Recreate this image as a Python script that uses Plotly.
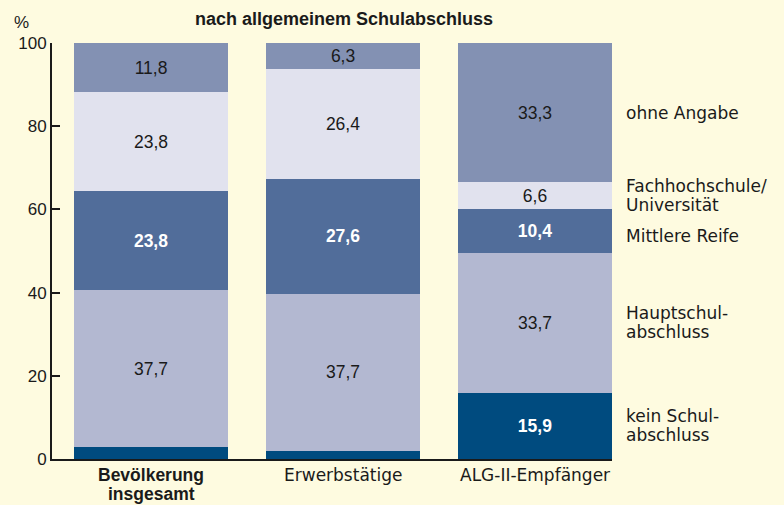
import plotly.graph_objects as go

categories = ["Bevölkerung insgesamt", "Erwerbstätige", "ALG-II-Empfänger"]
cat_lines = [["Bevölkerung", "insgesamt"], ["Erwerbstätige"], ["ALG-II-Empfänger"]]
cat_bold = [True, False, False]

series_names = ["kein Schulabschluss", "Hauptschulabschluss", "Mittlere Reife",
                "Fachhochschule/Universität", "ohne Angabe"]
legend_lines = [["kein Schul-", "abschluss"], ["Hauptschul-", "abschluss"], ["Mittlere Reife"],
                ["Fachhochschule/", "Universität"], ["ohne Angabe"]]
kein = [2.9, 2.0, 15.9]
haupt = [37.7, 37.7, 33.7]
mittlere = [23.8, 27.6, 10.4]
fach = [23.8, 26.4, 6.6]
ohne = [11.8, 6.3, 33.3]
values = [kein, haupt, mittlere, fach, ohne]

colors = ["#004B7F", "#B3B8D1", "#516D9A", "#E1E2EE", "#8391B3"]
text_colors = ["white", "#1a1a1a", "white", "#1a1a1a", "#1a1a1a"]
bold = [True, False, True, False, False]
min_label = 5

bg = "#FEFBE0"
ink = "#1a1a1a"
sans = "Liberation Sans, Arial, sans-serif"
wide = "DejaVu Sans, sans-serif"

xs = [0, 1, 2]
fig = go.Figure()
for name, vals, col, tcol, b in zip(series_names, values, colors, text_colors, bold):
    texts = []
    for v in vals:
        if v < min_label:
            texts.append("")
        else:
            s = f"{v:.1f}".replace(".", ",")
            texts.append(f"<b>{s}</b>" if b else s)
    fig.add_trace(go.Bar(
        x=xs, y=vals, name=name, marker=dict(color=col, line=dict(width=0)),
        text=texts, textposition="inside", insidetextanchor="middle",
        textfont=dict(color=tcol, size=17.5, family=sans),
        hoverinfo="skip", showlegend=False,
    ))

# right-side labels at the centres of the ALG-II segments
cum = 0
shifts = [0, 0, -5, 0, 0]
line_gap = 19
for lines, vals, sh in zip(legend_lines, values, shifts):
    v = vals[2]
    n = len(lines)
    for i, ln in enumerate(lines):
        off = ((n - 1) / 2 - i) * line_gap
        fig.add_annotation(x=1.0, xref="paper", xshift=12, y=cum + v / 2, yref="y",
                           yshift=sh + off, text=ln, showarrow=False,
                           xanchor="left", yanchor="middle", align="left",
                           font=dict(size=17, family=wide, color=ink))
    cum += v

# category labels below the axis
for x, lines, b in zip(xs, cat_lines, cat_bold):
    for i, ln in enumerate(lines):
        fig.add_annotation(x=x, xref="x", y=0, yref="paper", yshift=-16 - i * line_gap,
                           text=f"<b>{ln}</b>" if b else ln, showarrow=False,
                           xanchor="center", yanchor="middle",
                           font=dict(size=17.5 if b else 17, family=sans if b else wide,
                                     color=ink))

fig.add_annotation(x=0, xref="paper", xshift=-31, y=1.0, yref="paper", yshift=21, text="%",
                   showarrow=False, xanchor="center", yanchor="middle",
                   font=dict(size=17, family=sans, color=ink))
fig.add_annotation(x=0, xref="paper", xshift=292, y=1.0, yref="paper", yshift=24,
                   text="<b>nach allgemeinem Schulabschluss</b>",
                   showarrow=False, xanchor="center", yanchor="middle",
                   font=dict(size=18, family=sans, color=ink))

fig.update_layout(
    barmode="stack", bargap=0.2,
    width=784, height=505,
    margin=dict(l=52, r=172, t=43, b=46, pad=0),
    paper_bgcolor=bg, plot_bgcolor=bg,
    uniformtext=dict(minsize=15, mode="show"),
    xaxis=dict(tickmode="array", tickvals=xs, showticklabels=False,
               range=[-0.516, 2.401], showline=True, linecolor=ink, linewidth=2,
               ticks="", showgrid=False, zeroline=False),
    yaxis=dict(range=[0, 100], tickvals=[0, 20, 40, 60, 80, 100],
               showline=True, linecolor=ink, linewidth=2,
               ticks="inside", ticklen=8, tickwidth=2, tickcolor=ink,
               showgrid=False, zeroline=False,
               tickfont=dict(size=17, family=sans, color=ink)),
    font=dict(family=sans, color=ink),
)

fig.write_html("out.html", config={"displayModeBar": False}, post_script=(
    "document.body.style.margin='0';document.body.style.padding='0';"
    "document.body.style.background='" + bg + "';"))
